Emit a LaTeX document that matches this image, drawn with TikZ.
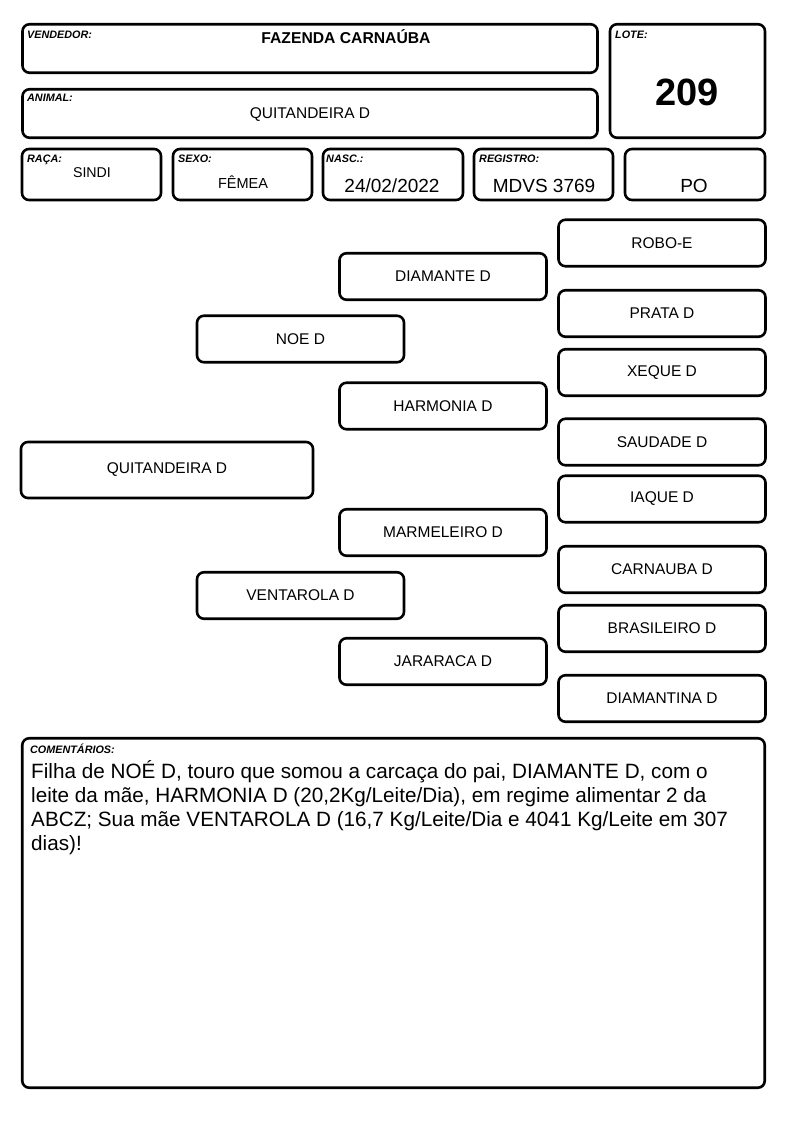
\documentclass[tikz,border=0pt]{standalone}
\usepackage{fontspec}
\setmainfont{Liberation Sans}
\usepackage{tikz}

\begin{document}
\begin{tikzpicture}[x=1pt,y=-1pt,
    cell/.style={draw, line width=2.6pt, rounded corners=7pt, inner sep=0pt},
    tag/.style={anchor=base west, inner sep=0pt, font=\fontsize{10.8}{12}\selectfont\bfseries\itshape},
    val/.style={anchor=base, inner sep=0pt, font=\fontsize{19}{22}\selectfont},
    anc/.style={cell, minimum width=207pt, minimum height=46.5pt, font=\fontsize{15.5}{18}\selectfont}]
    \useasboundingbox (0,0) rectangle (794,1123);
    % header
    \node[cell, minimum width=575pt, minimum height=48.5pt] (vend) at (310,48.5) {};
    \node[cell, minimum width=575pt, minimum height=48.5pt] (animal) at (310,113.5) {};
    \node[cell, minimum width=155pt, minimum height=113.5pt] (lote) at (687.5,81) {};
    \node[tag] at (27,39) {VENDEDOR:};
    \node[tag] at (27,102) {ANIMAL:};
    \node[tag] at (615,39) {LOTE:};
    \node[val, font=\fontsize{15.7}{18}\selectfont\bfseries] at (346,44) {FAZENDA CARNAÚBA};
    \node[val, font=\fontsize{15.5}{18}\selectfont] at (310,119) {QUITANDEIRA D};
    \node[val, font=\fontsize{38}{40}\selectfont\bfseries] at (687,106) {209};
    % dados
    \node[cell, minimum width=139pt, minimum height=51pt] (raca) at (91.5,174.5) {};
    \node[cell, minimum width=139pt, minimum height=51pt] (sexo) at (242.5,174.5) {};
    \node[cell, minimum width=140pt, minimum height=51pt] (nasc) at (393,174.5) {};
    \node[cell, minimum width=139pt, minimum height=51pt] (reg) at (543.5,174.5) {};
    \node[cell, minimum width=140pt, minimum height=51pt] (po) at (695,174.5) {};
    \node[tag] at (27,163) {RAÇA:};
    \node[tag] at (178,163) {SEXO:};
    \node[tag] at (326,163) {NASC.:};
    \node[tag] at (479,163) {REGISTRO:};
    \node[val, font=\fontsize{14.2}{17}\selectfont] at (92,178) {SINDI};
    \node[val, font=\fontsize{14.5}{17}\selectfont] at (243,189) {FÊMEA};
    \node[val] at (392,193) {24/02/2022};
    \node[val] at (544,193) {MDVS 3769};
    \node[val] at (694,193) {PO};
    % genealogia
    \node[anc, minimum width=292pt, minimum height=56pt] (quit) at (167,470) {QUITANDEIRA D};
    \node[anc] (noe) at (300.5,339) {NOE D};
    \node[anc] (vent) at (300.5,595.5) {VENTAROLA D};
    \node[anc] (diam) at (443,276.5) {DIAMANTE D};
    \node[anc] (harm) at (443,406) {HARMONIA D};
    \node[anc] (marm) at (443,532.5) {MARMELEIRO D};
    \node[anc] (jara) at (443,661.5) {JARARACA D};
    \node[anc] (robo) at (662,243) {ROBO-E};
    \node[anc] (prata) at (662,313.5) {PRATA D};
    \node[anc] (xeque) at (662,372.5) {XEQUE D};
    \node[anc] (saud) at (662,442) {SAUDADE D};
    \node[anc] (iaque) at (662,499) {IAQUE D};
    \node[anc] (carn) at (662,569.5) {CARNAUBA D};
    \node[anc] (bras) at (662,628.5) {BRASILEIRO D};
    \node[anc] (dtina) at (662,698.5) {DIAMANTINA D};
    % comentarios
    \node[cell, minimum width=742.5pt, minimum height=349.5pt] (coment) at (393.5,913) {};
    \node[tag] at (30,753) {COMENTÁRIOS:};
    \node[anchor=base west, inner sep=0pt, align=left, font=\fontsize{20.7}{24}\selectfont] (obs) at (31,850) % base = ultima linha
        {Filha de NOÉ D, touro que somou a carcaça do pai, DIAMANTE D, com o\\
         leite da mãe, HARMONIA D (20,2Kg/Leite/Dia), em regime alimentar 2 da\\
         ABCZ; Sua mãe VENTAROLA D (16,7 Kg/Leite/Dia e 4041 Kg/Leite em 307\\
         dias)!};
\end{tikzpicture}
\end{document}
